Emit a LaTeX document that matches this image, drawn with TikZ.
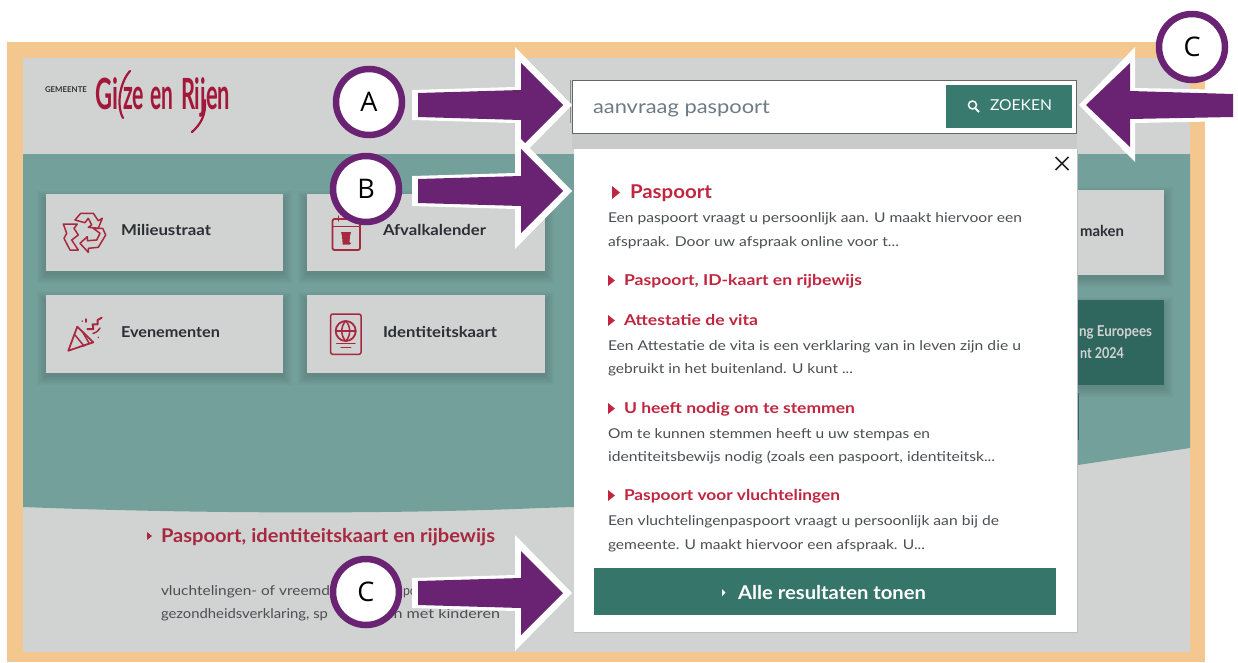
\documentclass[tikz,border=0pt]{standalone}
\usepackage{fontspec}
\usepackage{graphicx}
\setmainfont{Lato}
\newfontfamily\labelfont{Open Sans}
\usetikzlibrary{calc}
\definecolor{orangeframe}{HTML}{F4C78E}
\definecolor{pagegray}{HTML}{D1D3D2}
\definecolor{tealbg}{HTML}{74A09C}
\definecolor{darkteal}{HTML}{2F665E}
\definecolor{btnteal}{HTML}{35756A}
\definecolor{searchteal}{HTML}{397A6E}
\definecolor{ringpurple}{HTML}{6A2372}
\definecolor{hitred}{HTML}{C0263F}
\definecolor{iconred}{HTML}{A8283F}
\definecolor{logored}{HTML}{A3173A}
\definecolor{bodygray}{HTML}{4A4F51}
\definecolor{inktext}{HTML}{2B2F33}
\definecolor{queryblue}{HTML}{6C7B86}
\newsavebox\fitbox
\newlength\fitlen
% set #2 at exactly #1 (in pt) wide, height unchanged
\newcommand\fitw[2]{\sbox\fitbox{#2}\setlength\fitlen{\wd\fitbox}\scalebox{\fpeval{#1/\fitlen}}[1]{\usebox\fitbox}}
\tikzset{
  x=1pt,y=-1pt,
  txt/.style={anchor=base west,inner sep=0pt,outer sep=0pt},
  bodytxt/.style={txt,text=bodygray,font=\fontsize{13.5}{15}\selectfont},
  hittxt/.style={txt,text=hitred,font=\fontsize{15}{17}\selectfont\bfseries},
  cardtxt/.style={txt,text=inktext,font=\fontsize{15}{17}\selectfont\bfseries},
  logotxt/.style={txt,text=logored,font=\fontsize{43}{45}\selectfont\bfseries},
  badge/.style={circle,draw=ringpurple,line width=6.5pt,fill=white,minimum size=66pt,inner sep=0pt,font=\labelfont\fontsize{27}{30}\selectfont,text=black},
  card/.style={fill=pagegray},
  iconline/.style={draw=iconred,line width=1.5pt,line join=round,line cap=round},
}
% soft shadow under a rectangle
\newcommand\softshadow[4]{%
  \foreach \s in {9,7,5,3,1}{\fill[black,opacity=.028] (#1-\s,#2+6-\s) rectangle (#3+\s,#4+3+\s);}}
% purple block arrow pointing right, centre line at y=#1
\newcommand\markarrow[1]{%
  \fill[white] (412,#1-15) -- (515,#1-18) -- (515,#1-58) -- (572,#1) -- (515,#1+58) -- (515,#1+18) -- (412,#1+15) -- cycle;
  \fill[ringpurple] (418,#1-12) -- (521,#1-15) -- (521,#1-42) -- (563,#1) -- (521,#1+42) -- (521,#1+15) -- (418,#1+12) -- cycle;}
\begin{document}
\begin{tikzpicture}
\useasboundingbox (0,0) rectangle (1238,662);
\fill[white] (0,0) rectangle (1238,662);
% frame and page
\fill[orangeframe] (7,42) rectangle (1205,662);
\fill[pagegray] (23,58) rectangle (1190,652);
\fill[tealbg] (23,154) -- (1190,154) -- (1190,448) -- (1078,465) -- (574,507)
   -- (541,508) .. controls (400,514) and (200,514) .. (23,507) -- cycle;
% cards
\softshadow{46}{194}{283}{271}
\softshadow{307}{194}{545}{271}
\softshadow{46}{295}{283}{373}
\softshadow{307}{295}{545}{373}
\softshadow{1060}{190}{1164}{275}
\softshadow{1060}{300}{1164}{385}
\fill[card] (46,194) rectangle (283,271);
\fill[card] (307,194) rectangle (545,271);
\fill[card] (46,295) rectangle (283,373);
\fill[card] (307,295) rectangle (545,373);
\fill[card] (1060,190) rectangle (1164,275);
\fill[darkteal] (1060,300) rectangle (1164,385);
\node[cardtxt] (tmil) at (121,235) {\fitw{90}{Milieustraat}};
\node[cardtxt] (tafv) at (383,235) {\fitw{103}{Afvalkalender}};
\node[cardtxt] (teve) at (121,337) {\fitw{99}{Evenementen}};
\node[cardtxt] (tide) at (383,337) {\fitw{114}{Identiteitskaart}};
\node[cardtxt] (tmak) at (1080,236) {\fitw{44}{maken}};
\node[cardtxt,text=pagegray] (teur) at (1079,336) {\fitw{73}{ng Europees}};
\node[cardtxt,text=pagegray] (tjaar) at (1080,358) {\fitw{44}{nt 2024}};
% recycle icon
\begin{scope}[iconline]
 \draw (75,220) -- (80.7,213.3) -- (93.3,213.3) -- (98.3,220.7) -- (102.3,218.3) -- (98.3,228.3) -- (88.3,227.3) -- (91.7,225) -- (88.3,218.3) -- (85,222.7) -- cycle;
 \draw (63.3,224) -- (77.3,224) -- (74,228.3) -- (78.3,235) -- (71.7,240) -- (78.3,250) -- (70,250) -- (64,238.3) -- (66.7,233.3) -- cycle;
 \draw (80,243.3) -- (87.3,236.7) -- (87.3,240.7) -- (96.7,240) -- (100,233.3) -- (93.3,228.3) -- (102.7,228.3) -- (105.7,235) -- (98.3,247.3) -- (88.3,248.3) -- (88.3,252.3) -- cycle;
\end{scope}
% party popper icon
\begin{scope}[iconline]
 \draw[line width=1.8pt] (68.3,350.7) -- (77.3,326.7) -- (93.3,342.3) -- cycle;
 \draw (75,335) -- (84,346);
 \draw (82,331) -- (89,343);
 \draw[line width=2pt] (87.3,329) -- (93.3,329) -- (92.7,324.3) -- (97.7,324.3) -- (97.7,320) -- (101.7,317.7);
 \draw (82.3,321) -- (82.4,321.2);
 \draw (86,319) -- (86,322);
 \draw (98.3,337.3) -- (98.4,337.5);
 \draw (93,333.5) .. controls (96,333) and (98,331) .. (100,328);
\end{scope}
% calendar icon
\begin{scope}[iconline]
 \draw[rounded corners=2pt,line width=1.8pt] (332.5,219) rectangle (360,250);
 \draw (332.5,226.5) -- (360,226.5);
 \draw (338.5,216) -- (338.5,221);
 \draw (354,216) -- (354,221);
 \fill[iconred] (341,232) -- (351,232) -- (350,236) -- (349.3,244.5) -- (342.7,244.5) -- (342,236) -- cycle;
 \fill[iconred] (349.7,243.3) circle (1.3);
\end{scope}
% passport icon
\begin{scope}[iconline]
 \draw[rounded corners=2pt] (330.7,314) rectangle (361,354.3);
 \draw[line width=1.8pt] (345.7,331) circle (10);
 \draw (335.7,331) -- (355.7,331);
 \draw (345.7,321) .. controls (340.5,326) and (340.5,336) .. (345.7,341);
 \draw (345.7,321) .. controls (351,326) and (351,336) .. (345.7,341);
 \draw (336.7,343.3) -- (355,343.3);
 \draw (341,347.7) -- (350.7,347.7);
\end{scope}
% logo
\node[txt,text=black!80,font=\fontsize{8}{9}\selectfont\bfseries] (lgem) at (45,92) {\fitw{42}{GEMEENTE}};
\node[logotxt] (lgi) at (95,109) {\fitw{23}{Gi}};
\node[logotxt] (lze) at (123,109) {\fitw{21}{ze}};
\node[logotxt] (len) at (150,109) {\fitw{23}{en}};
\node[logotxt] (lri) at (181,109) {\fitw{49}{Rijen}};
\draw[logored,line width=2.2pt,line cap=round] (130,71) .. controls (120,82) and (116,105) .. (123,118);
\draw[logored,line width=2.2pt,line cap=round] (205,100) .. controls (206,115) and (201,124) .. (192,132);
% lower text
\fill[iconred] (147,532) -- (152,536) -- (147,540) -- cycle;
\node[txt,text=iconred,font=\fontsize{19}{21}\selectfont\bfseries] (tlow) at (161,542) {\fitw{334}{Paspoort, identiteitskaart en rijbewijs}};
\node[bodytxt] (tl1) at (161,595) {\fitw{169}{vluchtelingen- of vreemd}};
\node[bodytxt] (tl1b) at (403,595) {\fitw{14}{po}};
\node[bodytxt] (tl2) at (161,618) {\fitw{167}{gezondheidsverklaring, sp}};
\node[bodytxt] (tl2b) at (385,618) {\fitw{115}{en met kinderen}};
% search box
\fill[black,opacity=.035] (572,133) rectangle (1077,149);
\draw[black!45,line width=1pt] (570,80) -- (570,123);
\draw[draw=black!60,line width=1pt,fill=white] (572.5,80.5) rectangle (1076.5,133);
\fill[searchteal] (946,85) rectangle (1072,128);
\node[txt,text=queryblue,font=\fontsize{19}{21}\selectfont] (tq) at (593,113) {\fitw{177}{aanvraag paspoort}};
\node[txt,text=white,font=\fontsize{15}{17}\selectfont] (tz) at (990,110) {\fitw{62}{ZOEKEN}};
\draw[white,line width=1.5pt] (972.5,105) circle (4);
\draw[white,line width=1.8pt] (975.5,108.5) -- (979,112);
% results panel
\draw[darkteal,line width=.8pt] (1078,393) -- (1078,440);
\fill[white] (574,149) rectangle (1077,632);
\draw[black!25,line width=.8pt] (574,632) -- (1077,632) -- (1077,149);
\draw[black!85,line width=1.6pt] (1055.5,157) -- (1068.5,170) (1068.5,157) -- (1055.5,170);
\fill[hitred] (612,186) -- (620,192.5) -- (612,199) -- cycle;
\node[txt,text=hitred,font=\fontsize{19}{21}\selectfont\bfseries] (r1) at (630,198) {\fitw{82}{Paspoort}};
\node[bodytxt] (r1a) at (608,222) {\fitw{414}{Een paspoort vraagt u persoonlijk aan. U maakt hiervoor een}};
\node[bodytxt] (r1b) at (608,246) {\fitw{291}{afspraak. Door uw afspraak online voor t...}};
\fill[hitred] (608,275) -- (615,280.5) -- (608,286) -- cycle;
\node[hittxt] (r2) at (624,285) {\fitw{238}{Paspoort, ID-kaart en rijbewijs}};
\fill[hitred] (608,315) -- (615,320.5) -- (608,326) -- cycle;
\node[hittxt] (r3) at (624,325) {\fitw{134}{Attestatie de vita}};
\node[bodytxt] (r3a) at (608,350) {\fitw{413}{Een Attestatie de vita is een verklaring van in leven zijn die u}};
\node[bodytxt] (r3b) at (608,373) {\fitw{245}{gebruikt in het buitenland. U kunt ...}};
\fill[hitred] (608,403) -- (615,408.5) -- (608,414) -- cycle;
\node[hittxt] (r4) at (624,413) {\fitw{231}{U heeft nodig om te stemmen}};
\node[bodytxt] (r4a) at (608,438) {\fitw{322}{Om te kunnen stemmen heeft u uw stempas en}};
\node[bodytxt] (r4b) at (608,461) {\fitw{387}{identiteitsbewijs nodig (zoals een paspoort, identiteitsk...}};
\fill[hitred] (608,490) -- (615,495.5) -- (608,501) -- cycle;
\node[hittxt] (r5) at (624,500) {\fitw{216}{Paspoort voor vluchtelingen}};
\node[bodytxt] (r5a) at (608,525) {\fitw{391}{Een vluchtelingenpaspoort vraagt u persoonlijk aan bij de}};
\node[bodytxt] (r5b) at (608,549) {\fitw{317}{gemeente. U maakt hiervoor een afspraak. U...}};
\fill[btnteal] (594,568) rectangle (1056,615);
\fill[white] (722,589) -- (725.5,592.5) -- (722,596) -- cycle;
\node[txt,text=white,font=\fontsize{19}{21}\selectfont\bfseries] (tall) at (738,599) {\fitw{188}{Alle resultaten tonen}};
% markers
\markarrow{105}
\markarrow{191}
\markarrow{593}
\fill[white] (1238,90) -- (1135,88) -- (1135,47) -- (1079,105) -- (1135,162) -- (1135,123) -- (1238,121) -- cycle;
\fill[ringpurple] (1233,94) -- (1130,91) -- (1130,63) -- (1086,105) -- (1130,147) -- (1130,119) -- (1233,117) -- cycle;
\node[badge] (ba) at (369,102) {A};
\node[badge] (bb) at (366,189) {B};
\node[badge] (bc) at (366,592) {C};
\node[badge] (bd) at (1192,47) {C};
\end{tikzpicture}
\end{document}
